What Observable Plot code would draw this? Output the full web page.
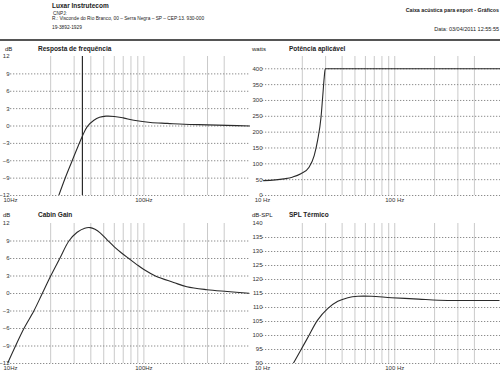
<!DOCTYPE html>
<html><head><meta charset="utf-8">
<script src="https://cdn.jsdelivr.net/npm/d3@7"></script>
<script src="https://cdn.jsdelivr.net/npm/@observablehq/plot@0.6"></script>
<style>
body{margin:0;background:#fff;}
#root{position:relative;width:500px;height:375px;overflow:hidden;font-family:"Liberation Sans",Arial,sans-serif;color:#222;}
.t{position:absolute;white-space:nowrap;line-height:1;}
.b{font-weight:bold;}
.p{position:absolute;}
.hr{position:absolute;left:0;top:39px;width:500px;height:1.5px;background:#555;}
</style></head><body><div id="root"></div>
<script>
// ---- data ----
const freqDomain = [9.33, 630];
const gridFreqs = [20, 30, 40, 50, 60, 70, 80, 90, 100, 200, 300, 400];
const xTickValues = [10, 100];
const xTickLabelsLeft = ["10Hz", "100Hz"];
const xTickLabelsRight = ["10 Hz", "100 Hz"];

const respFreq = [23.0, 25.8, 29.0, 32.2, 34.5, 37.6, 42.2, 46.5, 52, 60, 70, 84, 112, 150, 200, 300, 420, 630];
const respDb   = [-12, -8.9, -6.0, -3.4, -1.8, -0.1, 1.0, 1.5, 1.7, 1.65, 1.4, 1.0, 0.6, 0.45, 0.3, 0.2, 0.1, 0.0];
const respTicks = [12, 9, 6, 3, 0, -3, -6, -9, -12];
const tuningFreq = [34.6];

const powFreq = [10.2, 14.5, 16.8, 19.5, 22.5, 24.6, 26.1, 27.7, 28.5, 29.3, 29.8, 630];
const powW    = [47, 52.6, 57.8, 68.4, 89.4, 126, 174, 247, 310, 373, 400, 400];
const powTicks = [400, 350, 300, 250, 200, 150, 100, 50, 0];

const cabFreq = [9.45, 10.9, 12.6, 14.95, 17.3, 20, 23.4, 27.4, 31.6, 36, 39.5, 43, 47, 53, 60, 68, 77, 88, 100, 122, 167, 210, 297, 421, 614];
const cabDb   = [-12.1, -9, -6, -3, 0, 3, 6, 9, 10.5, 11.2, 11.3, 11.0, 10.4, 9.2, 8.0, 6.95, 6.0, 5.0, 4.1, 3.0, 1.9, 1.15, 0.65, 0.35, 0.05];
const cabTicks = [12, 9, 6, 3, 0, -3, -6, -9, -12];

const splFreq = [16.8, 19.5, 22.5, 26.1, 31.1, 37.1, 44.2, 52.7, 66.5, 94.5, 151, 214, 363, 615];
const splDb   = [89.4, 94.8, 100.1, 105.5, 109.6, 112.2, 113.5, 114.0, 114.0, 113.5, 113.0, 112.6, 112.5, 112.5];
const splTicks = [140, 135, 130, 125, 120, 115, 110, 105, 100, 95, 90];

// ---- layout ----
const root = document.getElementById("root");
function txt(s, x, y, size, cls, align) {
  const d = document.createElement("div");
  d.className = "t " + (cls || "");
  d.textContent = s;
  d.style.fontSize = size + "px";
  d.style.top = y + "px";
  if (align === "right") d.style.right = (500 - x) + "px"; else d.style.left = x + "px";
  root.appendChild(d);
}
txt("Luxar Instrutecom", 52, 2.5, 6.5, "b");
txt("CNPJ:", 53, 11.5, 4.8);
txt("R.: Visconde do Rio Branco, 00 – Serra Negra – SP – CEP:13. 930-000", 52, 17, 4.8);
txt("19-3892-1929", 52, 26, 4.8);
txt("Caixa acústica para export - Gráficos", 499, 8, 5.3, "b", "right");
txt("Data: 03/04/2011 12:55:55", 499, 26.5, 5.5, "", "right");
const hr = document.createElement("div"); hr.className = "hr"; root.appendChild(hr);

txt("dB", 5, 45.5, 6);
txt("Resposta de frequência", 38, 45.5, 6.5, "b");
txt("watts", 252, 45.5, 6);
txt("Potência aplicável", 289, 45.5, 6.5, "b");
txt("dB", 3, 212, 6);
txt("Cabin Gain", 38, 212, 6.5, "b");
txt("dB-SPL", 252, 212, 6);
txt("SPL Térmico", 289, 212, 6.5, "b");

function panel(o) {
  const pts = o.fx.map((f, i) => ({f, v: o.vy[i]}));
  const gridY = o.ticks.filter(t => t !== o.ticks[0] || o.gridTop);
  const marks = [
    Plot.ruleX(gridFreqs, {y1: o.domain[0], y2: o.domain[1], stroke: "#cacaca", strokeWidth: 1}),
    Plot.ruleY(gridY, {x1: 10, x2: freqDomain[1], stroke: "#8c8c8c", strokeWidth: 1, strokeDasharray: "1.3,1.7"}),
    Plot.axisY(o.ticks, {tickSize: 0, tickPadding: o.pad, fontSize: 6, label: null, fill: "#333"}),
    Plot.axisX(xTickValues, {tickSize: 0, tickPadding: 2.5, fontSize: 6, label: null, fill: "#333",
      tickFormat: (d) => o.xLabels[xTickValues.indexOf(d)]})
  ];
  if (o.marker) marks.push(Plot.ruleX(o.marker, {y1: o.domain[0], y2: o.domain[1], stroke: "#2a2a2a", strokeWidth: 1.2}));
  marks.push(Plot.line(pts, {x: "f", y: "v", stroke: "#2a2a2a", strokeWidth: 1.1, curve: o.curve || "catmull-rom", clip: true}));
  const svg = Plot.plot({
    width: 250, height: o.height,
    marginLeft: o.mL, marginRight: 0, marginTop: o.mT, marginBottom: o.mB,
    style: {fontFamily: '"Liberation Sans", Arial, sans-serif', fontSize: "6px", background: "transparent", overflow: "visible"},
    x: {type: "log", domain: freqDomain, axis: null},
    y: {domain: o.domain, axis: null},
    marks
  });
  svg.classList.add("p");
  svg.style.left = o.left + "px";
  svg.style.top = o.top + "px";
  root.appendChild(svg);
}

panel({left: 0, top: 50, height: 160, mL: 6, mT: 6, mB: 15, domain: [-12, 12], ticks: respTicks, pad: -3,
  fx: respFreq, vy: respDb, xLabels: xTickLabelsLeft, marker: tuningFreq});
panel({left: 250, top: 50, height: 160, mL: 8, mT: 6, mB: 15, domain: [0, 438.8], ticks: powTicks, pad: -4, gridTop: true,
  fx: powFreq, vy: powW, xLabels: xTickLabelsRight, curve: "monotone-x"});
panel({left: 0, top: 216, height: 159, mL: 6, mT: 7, mB: 12, domain: [-12, 12], ticks: cabTicks, pad: -3,
  fx: cabFreq, vy: cabDb, xLabels: xTickLabelsLeft});
panel({left: 250, top: 216, height: 159, mL: 8, mT: 7, mB: 12, domain: [90, 140], ticks: splTicks, pad: -4,
  fx: splFreq, vy: splDb, xLabels: xTickLabelsRight});
</script>
</body></html>
